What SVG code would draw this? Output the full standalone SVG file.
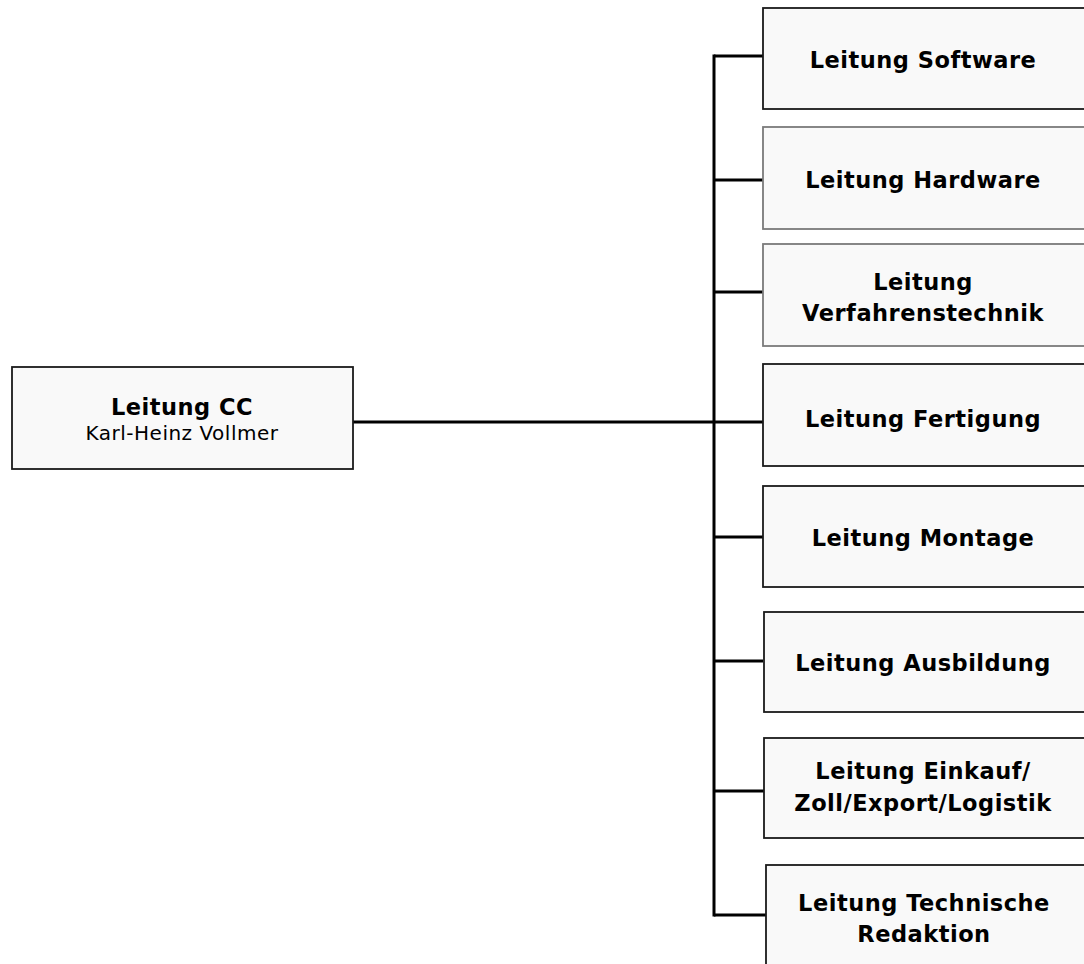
<svg xmlns="http://www.w3.org/2000/svg" width="1084" height="964" viewBox="0 0 1084 964">
<style>
.box{fill:#f9f9f9;stroke:#1a1a1a;stroke-width:1.8}
.gbox{fill:#f9f9f9;stroke:#7a7a7a;stroke-width:1.8}
.t{font-family:"DejaVu Sans","Liberation Sans",sans-serif;font-weight:bold;font-size:22.5px;letter-spacing:0.5px;fill:#000;text-anchor:middle}
.s{font-family:"DejaVu Sans","Liberation Sans",sans-serif;font-size:20px;letter-spacing:0.5px;fill:#000;text-anchor:middle}
.c{stroke:#000;stroke-width:3;fill:none}
</style>
<rect width="1084" height="964" fill="#fff"/>
<g id="connectors">
<line class="c" x1="353" y1="422" x2="714" y2="422"/>
<line class="c" x1="714" y1="54.5" x2="714" y2="916.5"/>
<line class="c" x1="714" y1="56" x2="763" y2="56"/>
<line class="c" x1="714" y1="180" x2="763" y2="180"/>
<line class="c" x1="714" y1="292" x2="763" y2="292"/>
<line class="c" x1="714" y1="422" x2="763" y2="422"/>
<line class="c" x1="714" y1="537" x2="763" y2="537"/>
<line class="c" x1="714" y1="661" x2="763" y2="661"/>
<line class="c" x1="714" y1="791" x2="764" y2="791"/>
<line class="c" x1="714" y1="915" x2="766" y2="915"/>
</g>
<g id="n-cc">
<rect class="box" x="12" y="367" width="341" height="102"/>
<text class="t" x="182" y="415">Leitung CC</text>
<text class="s" x="182" y="440">Karl-Heinz Vollmer</text>
</g>
<g id="n-software">
<rect class="box" x="763" y="8" width="330" height="101"/>
<text class="t" x="923" y="68">Leitung Software</text>
</g>
<g id="n-hardware">
<rect class="gbox" x="763" y="127" width="330" height="102"/>
<text class="t" x="923" y="188">Leitung Hardware</text>
</g>
<g id="n-verfahren">
<rect class="gbox" x="763" y="244" width="330" height="102"/>
<text class="t" x="923" y="290">Leitung</text>
<text class="t" x="923" y="321">Verfahrenstechnik</text>
</g>
<g id="n-fertigung">
<rect class="box" x="763" y="364" width="330" height="102"/>
<text class="t" x="923" y="427">Leitung Fertigung</text>
</g>
<g id="n-montage">
<rect class="box" x="763" y="486" width="330" height="101"/>
<text class="t" x="923" y="546">Leitung Montage</text>
</g>
<g id="n-ausbildung">
<rect class="box" x="764" y="612" width="330" height="100"/>
<text class="t" x="923" y="671">Leitung Ausbildung</text>
</g>
<g id="n-einkauf">
<rect class="box" x="764" y="738" width="330" height="100"/>
<text class="t" x="923" y="779">Leitung Einkauf/</text>
<text class="t" x="923" y="811">Zoll/Export/Logistik</text>
</g>
<g id="n-technisch">
<rect class="box" x="766" y="865" width="330" height="110"/>
<text class="t" x="924" y="911">Leitung Technische</text>
<text class="t" x="924" y="942">Redaktion</text>
</g>
</svg>
